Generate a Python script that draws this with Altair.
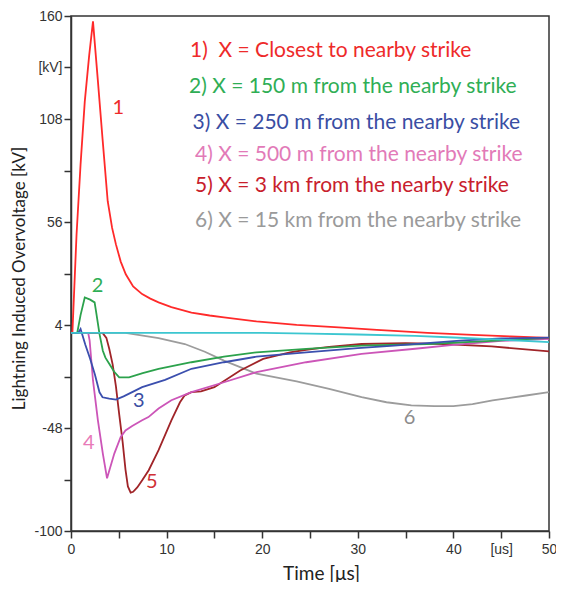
import altair as alt
import pandas as pd

# ---- data ----
t_ref = [0, 20, 25, 30, 36, 40, 45, 50]
v_ref = [0, 0, -0.4, -0.8, -1.5, -2.3, -3.4, -4.6]

t_1 = [0, 0.15, 0.58, 1.0, 1.44, 1.9, 2.3, 2.8, 3.3, 3.84, 4.3, 4.7, 5.2, 5.73, 6.5, 7.44,
       8.3, 9.16, 10.5, 12.6, 14.5, 16, 19.4, 23.6, 28, 32, 37.3, 42, 46, 50]
v_1 = [0, 0.5, 49.7, 85, 116.8, 140, 157.3, 128, 98, 66.5, 53, 44.7, 36, 29.6, 23.5, 19.6,
       17.3, 15.4, 13, 10.3, 8.8, 7.8, 5.8, 4.1, 2.8, 1.5, 0, -1, -1.8, -2.5]

t_2 = [0, 0.65, 1.0, 1.44, 2.0, 2.47, 2.64, 2.98, 3.33, 3.6, 4.0, 4.5, 5.04, 6.07, 7.5, 9.16,
       12.6, 16, 19.4, 24.6, 30.4, 37.3, 44, 50]
v_2 = [0, 0, 9, 17.9, 16.8, 15.4, 10.3, -0.5, -9, -12.5, -15.6, -19.5, -22.4, -22.4, -20.3, -18.1,
       -14.8, -12, -9.8, -8.1, -6.4, -5.6, -4, -2.5]

t_3 = [0, 0.75, 1.0, 1.5, 2.0, 2.5, 2.98, 3.3, 4.0, 4.7, 5.5, 6.4, 7.44, 9.84, 12.6, 16, 19.4,
       24.6, 30, 33.8, 40.7, 45, 50]
v_3 = [0, 0, 2, -6, -13, -21, -30, -32.5, -33.2, -33.7, -32, -29.9, -27.4, -23.7, -18.1, -14.8, -12,
       -9.8, -7.7, -6.4, -3.9, -2.8, -2.4]

t_4 = [0, 1.8, 1.95, 2.3, 2.81, 3.33, 3.77, 4.53, 5.2, 5.7, 6.4, 7.44, 8.1, 9.16, 10.5, 12.6, 16,
       19.4, 24.6, 30.4, 36, 40, 45, 50]
v_4 = [0, 0, -3.9, -24, -44, -60.9, -73.4, -60.9, -52.5, -49.2, -47, -44.1, -42.5, -38.2, -34, -29.9, -24.9,
       -19.8, -14.8, -10.6, -8, -6, -4, -3]

t_5 = [0, 3.3, 3.7, 4.0, 4.36, 4.7, 5.04, 5.4, 5.7, 5.95, 6.24, 6.5, 6.93, 7.5, 8.13, 9.16, 10.5,
       11.4, 11.9, 12.6, 13.6, 15.0, 17.7, 20.1, 22.9, 24.6, 27, 30.4, 35, 39, 44, 50]
v_5 = [0, 0, -2.5, -8, -16, -27, -41, -55, -69, -77.5, -80.6, -80.2, -78, -74, -69.3, -59.2, -44.1,
       -35, -31.5, -29.9, -29.5, -27.4, -19, -13.1, -9.8, -8.5, -7, -5.6, -5.2, -5.6, -6.8, -9.3]

t_6 = [0, 5.7, 9.16, 11.9, 14, 16, 19.4, 23.6, 27, 30.4, 33, 35.6, 38, 40, 42, 44.1, 47.6, 50]
v_6 = [0, 0, -2.6, -5.6, -9.5, -14, -20.6, -24.5, -28.2, -32.4, -35, -36.6, -37, -37, -36, -34, -31.6, -29.9]

legend_texts = [
    "1)\u00a0 X = Closest to nearby strike",
    "2) X = 150 m from the nearby strike",
    "3) X = 250 m from the nearby strike",
    "4) X = 500 m from the nearby strike",
    "5) X = 3 km from the nearby strike",
    "6) X = 15 km from the nearby strike",
]
curve_labels = ["1", "2", "3", "4", "5", "6"]

x_ticks = [0, 5, 10, 15, 20, 25, 30, 35, 40, 45, 50]
y_ticks = [-100, -74, -48, -22, 4, 30, 56, 82, 108, 134, 160]

# ---- styling ----
W, H = 478, 515
x_scale = alt.Scale(domain=[0, 50], nice=False, zero=False)
y_scale = alt.Scale(domain=[-100, 160], nice=False, zero=False)

axis_common = dict(
    grid=False, domainColor="#333333", domainWidth=1.5, tickColor="#333333",
    tickWidth=1.5, tickSize=7, labelFont="Liberation Sans", labelFontSize=14,
    labelColor="#333333", labelOverlap=False, labelFlush=False, labelBound=False,
    titleFont="Lato", titleFontWeight="normal", titleColor="#222222",
)

x_axis = alt.Axis(
    values=x_ticks, title="Time [\u03bcs]",
    labelExpr="datum.value == 45 ? '[us]' : (datum.value % 10 == 0 ? toString(datum.value) : '')",
    labelPadding=4, titleFontSize=19, titleX=250, titleY=42,
    titleAlign="center", titleBaseline="middle", **axis_common,
)
y_axis = alt.Axis(
    values=y_ticks, title="Lightning Induced Overvoltage [kV]",
    labelExpr="datum.value == 134 ? '[kV]' : (indexof([-100,-48,4,56,108,160], datum.value) >= 0 ? toString(datum.value) : '')",
    labelPadding=2, titleFontSize=17, titleAngle=-90, titleX=-52, titleY=262,
    titleAlign="center", titleBaseline="middle", **axis_common,
)

series = [
    (t_6, v_6, "#9c9c9c"),
    (t_5, v_5, "#a02428"),
    (t_4, v_4, "#cc55b8"),
    (t_2, v_2, "#2ca24c"),
    (t_1, v_1, "#ff2a2a"),
    (t_3, v_3, "#3b4fae"),
    (t_ref, v_ref, "#3cc6d0"),
]

layers = []
for ts, vs, col in series:
    df = pd.DataFrame({"t": ts, "v": vs})
    layers.append(
        alt.Chart(df).mark_line(color=col, strokeWidth=1.8, clip=True).encode(
            x=alt.X("t:Q", scale=x_scale, axis=x_axis),
            y=alt.Y("v:Q", scale=y_scale, axis=y_axis),
        )
    )

one = pd.DataFrame({"a": [0]})

legend_colors = ["#ee2a2a", "#2fae55", "#3a4ea3", "#e27ab8", "#c8202c", "#9a9a9a"]
legend_pos = [(119, 35), (118, 71), (121.5, 107), (124, 139), (124, 170), (124, 205)]
for txt, col, (px, py) in zip(legend_texts, legend_colors, legend_pos):
    layers.append(
        alt.Chart(one).mark_text(text=txt, color=col, font="Lato", fontSize=21,
                                 align="left", baseline="middle").encode(
            x=alt.value(px), y=alt.value(py))
    )

label_colors = ["#ee2a2a", "#2fae55", "#3a4ea3", "#e87ab8", "#d03035", "#8c8c8c"]
label_pos = [(4.94, 113.7), (2.78, 23.8), (7.1, -34.6), (1.85, -55.7), (8.44, -75.3), (35.4, -43.1)]
for txt, col, (tx, vy) in zip(curve_labels, label_colors, label_pos):
    layers.append(
        alt.Chart(one).mark_text(text=txt, color=col, font="Lato", fontSize=20,
                                 align="center", baseline="middle").encode(
            x=alt.XDatum(tx, scale=x_scale, axis=x_axis),
            y=alt.YDatum(vy, scale=y_scale, axis=y_axis))
    )

chart = alt.layer(*layers).properties(
    width=W, height=H,
    autosize=alt.AutoSizeParams(type="none"),
    padding={"left": 63, "top": 8, "right": 7, "bottom": 51},
    background="white",
).configure_view(stroke="#333333", strokeWidth=1.5)

chart.save("out.html", embed_options={"renderer": "svg", "actions": False})
